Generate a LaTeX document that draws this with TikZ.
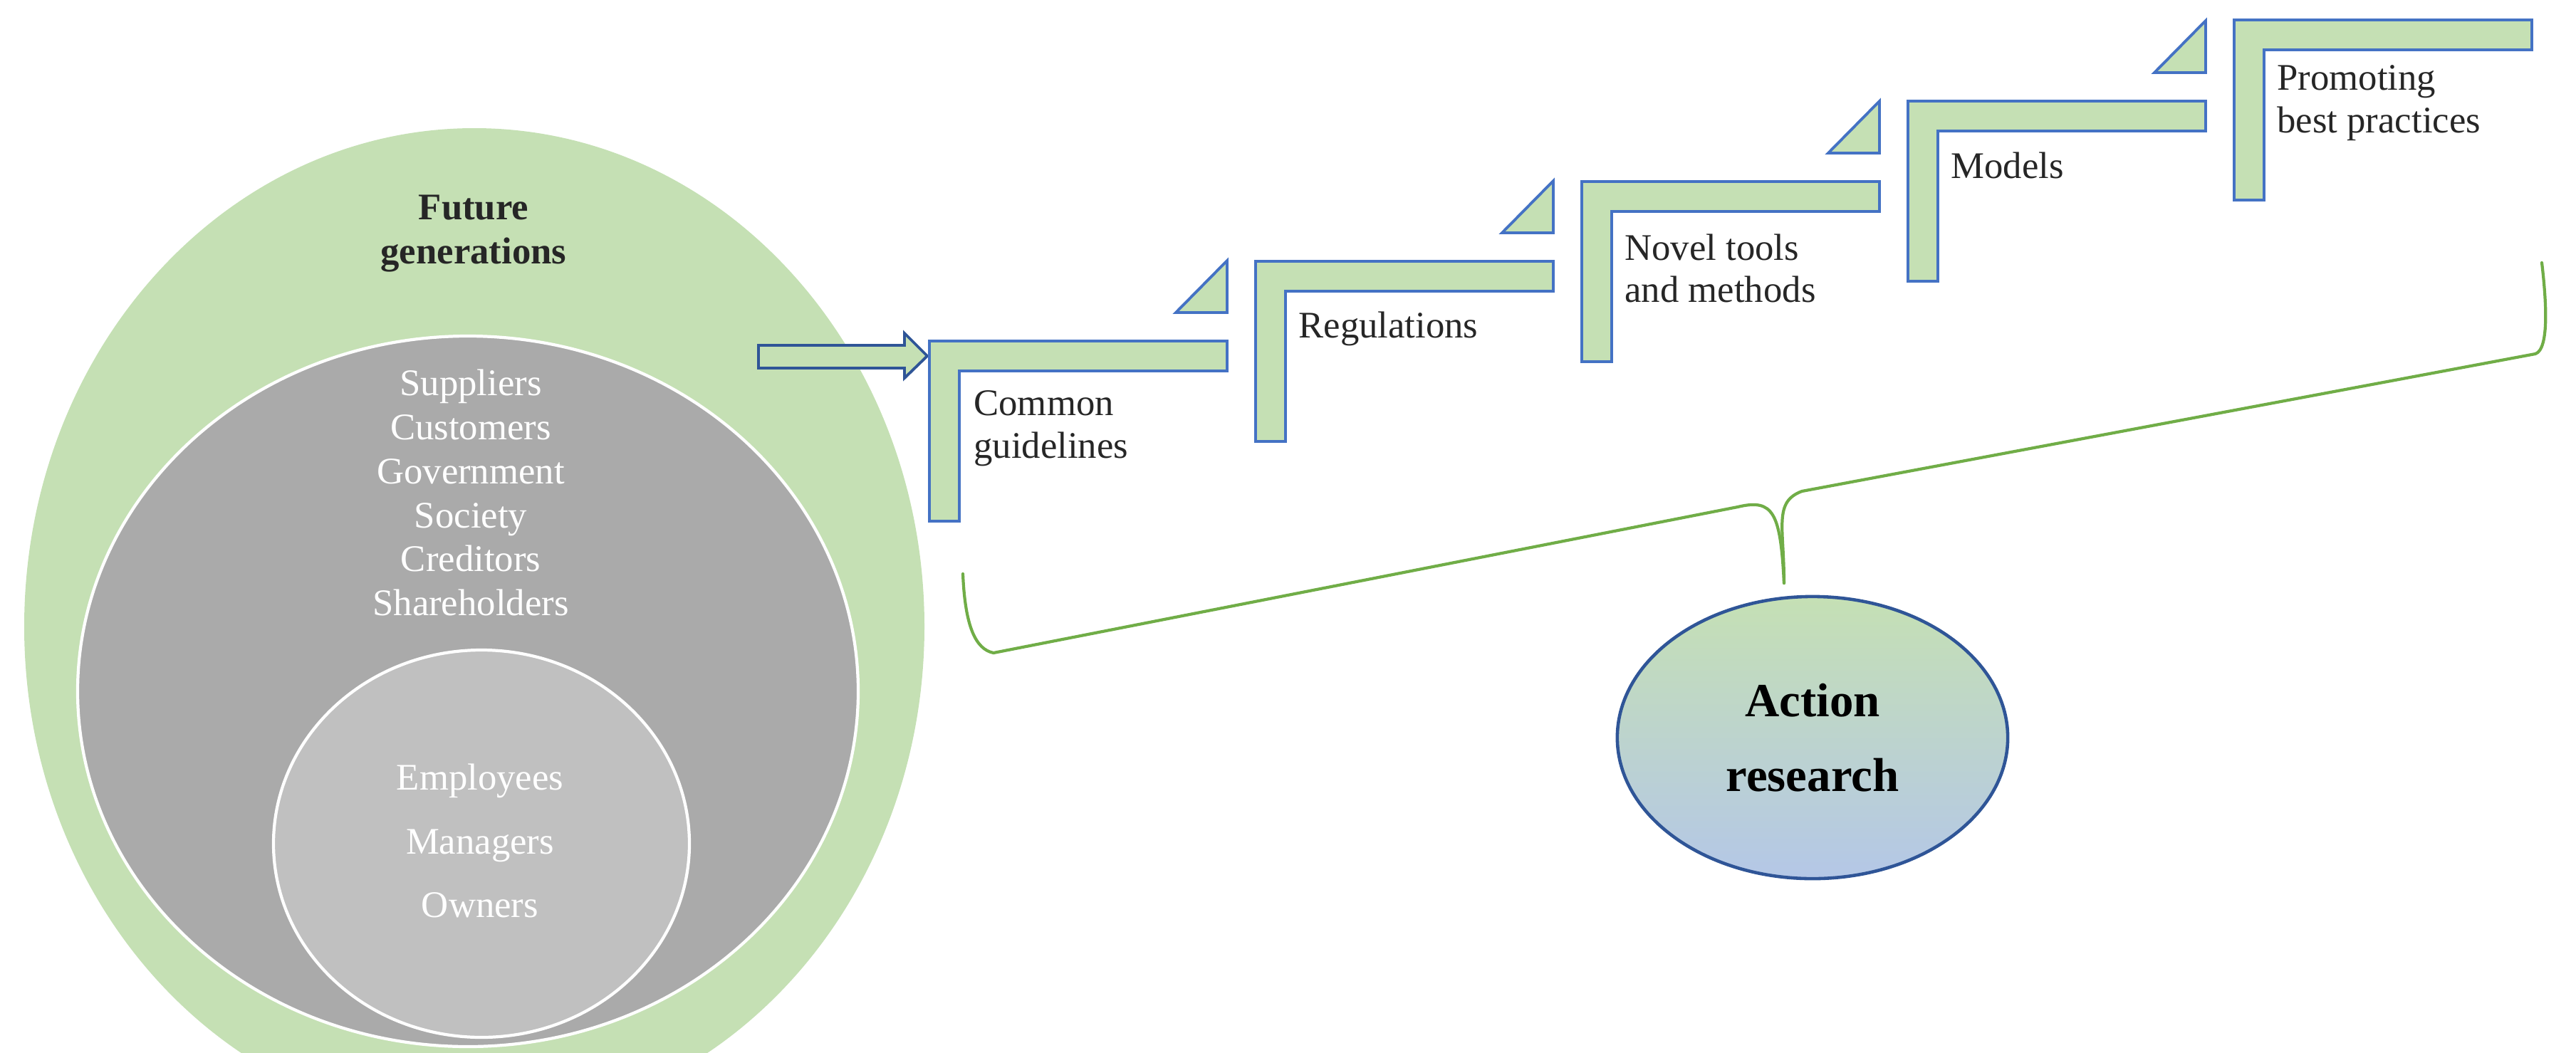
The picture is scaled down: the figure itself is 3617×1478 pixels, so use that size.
\documentclass[tikz,border=0pt]{standalone}
\usepackage{fontspec}
\setmainfont{Liberation Serif}
\usetikzlibrary{shapes.geometric}
\definecolor{lgreen}{RGB}{197,224,180}
\definecolor{sblue}{RGB}{68,114,196}
\definecolor{dblue}{RGB}{47,85,151}
\definecolor{bgreen}{RGB}{112,173,71}
\definecolor{lblue}{RGB}{180,199,231}
\definecolor{mgray}{RGB}{170,170,170}
\definecolor{igray}{RGB}{192,192,192}
\newcommand{\stairstep}[2]{% left x, top y
  \draw[stepstyle] (#1,#2) -- ++(418,0) -- ++(0,42) -- ++(-376,0) -- ++(0,211) -- ++(-42,0) -- cycle;
}
\newcommand{\stairtri}[2]{% right x, step top y
  \draw[stepstyle] (#1,#2-40) -- ++(-72,0) -- (#1,#2-113) -- cycle;
}
\begin{document}
\begin{tikzpicture}[x=0.01cm,y=-0.01cm,
  stepstyle/.style={fill=lgreen,draw=sblue,line width=1.1pt,line join=miter},
  wtxt/.style={text=white,font=\fontsize{15}{17.6}\selectfont,align=center},
  stxt/.style={anchor=west,align=left,font=\fontsize{15}{17}\selectfont,text=black!85},
  brace/.style={draw=bgreen,line width=1.2pt,line cap=round,line join=round}]
\useasboundingbox (0,0) rectangle (3617,1478);
\begin{scope}
\clip (0,0) rectangle (3617,1478);
\fill[lgreen] (666,880) ellipse [x radius=632,y radius=700];
\fill[mgray,draw=white,line width=1.2pt] (657,971) ellipse [x radius=548,y radius=499];
\fill[igray,draw=white,line width=1.2pt] (676,1185) ellipse [x radius=292,y radius=272];
\end{scope}
\node[font=\bfseries\fontsize{15}{17.6}\selectfont,align=center,text=black!85] (fg) at (665,328) {Future\\generations};
\node[wtxt] (ext) at (661,692) {Suppliers\\Customers\\Government\\Society\\Creditors\\Shareholders};
\node[wtxt,font=\fontsize{15}{25.5}\selectfont] (int) at (674,1181) {Employees\\Managers\\Owners};
% block arrow
\draw[fill=lgreen,draw=dblue,line width=1.1pt] (1065,485) -- (1270,485) -- (1270,468) -- (1302,500) -- (1270,531) -- (1270,517) -- (1065,517) -- cycle;
% steps
\stairstep{1305}{479}\stairtri{1723}{479}
\stairstep{1763}{367}\stairtri{2181}{367}
\stairstep{2221}{255}\stairtri{2639}{255}
\stairstep{2679}{142}\stairtri{3097}{142}
\stairstep{3137}{28}
\node[stxt] (s1) at (1355,602) {Common\\guidelines};
\node[stxt] (s2) at (1811,462) {Regulations};
\node[stxt] (s3) at (2269,377) {Novel tools\\and methods};
\node[stxt] (s4) at (2727,232) {Models};
\node[stxt] (s5) at (3185,145) {Promoting\\best practices};
% brace
\coordinate (bl) at (1352,806);
\coordinate (br) at (3569,369);
\coordinate (bc) at (2505,819);
\draw[brace] (bl) .. controls (1355,880) and (1370,912) .. (1395,917)
  -- (2440,712) .. controls (2490,700) and (2500,720) .. (bc);
\draw[brace] (bc) .. controls (2505,740) and (2490,705) .. (2530,690)
  -- (3560,497) .. controls (3580,490) and (3575,420) .. (br);
% action research
\node[ellipse,draw=dblue,line width=1.3pt,top color=lgreen,bottom color=lblue,
  minimum width=5.48cm,minimum height=3.96cm,inner sep=0pt,
  font=\bfseries\fontsize{19}{30}\selectfont,align=center] (ar) at (2545,1036) {Action\\research};
\end{tikzpicture}
\end{document}
